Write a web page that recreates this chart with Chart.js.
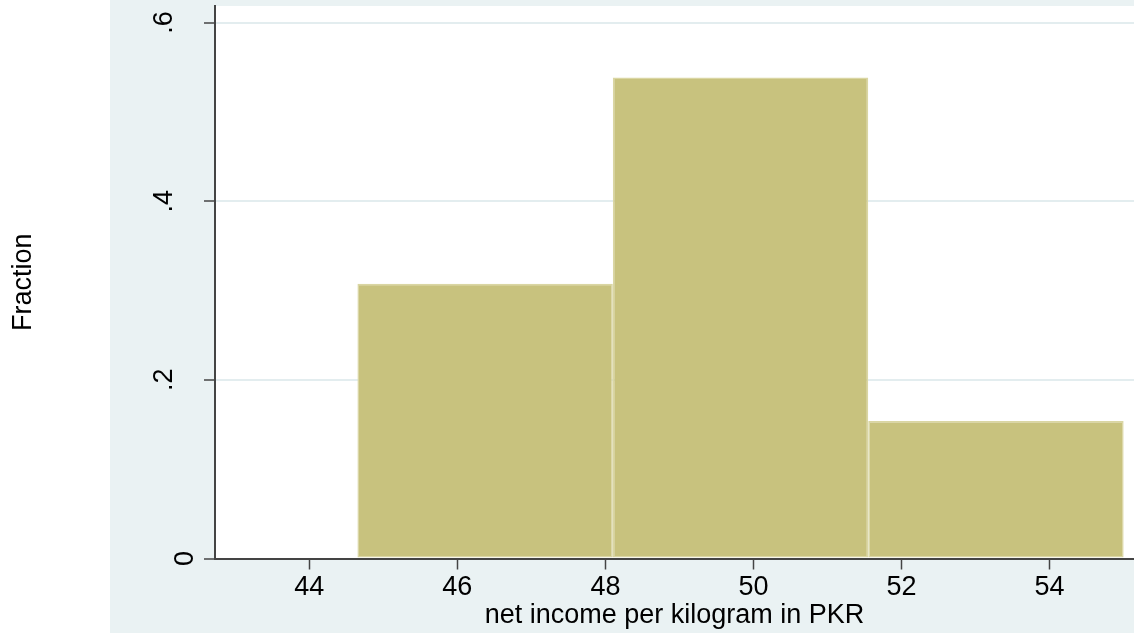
<!DOCTYPE html>
<html>
<head>
<meta charset="utf-8">
<script src="https://cdn.jsdelivr.net/npm/chart.js@4/dist/chart.umd.min.js"></script>
<style>
  html, body { margin: 0; padding: 0; background: #fff; }
  #wrap { width: 1134px; height: 633px; }
</style>
</head>
<body>
<div id="wrap"><canvas id="histChart"></canvas></div>
<script>
// histogram bins (edges) and fraction per bin
const binEdges = [44.65, 48.1, 51.55, 55.0];
const fractions = [0.3077, 0.5385, 0.1538];
const xTicks = [44, 46, 48, 50, 52, 54];
const yTicks = [0, 0.2, 0.4, 0.6];
const yTickLabels = ["0", ".2", ".4", ".6"];

const FONT = "'Liberation Sans', Arial, sans-serif";
const FONT_SIZE = 27;
const BG = "#EAF2F3";

const bars = fractions.map((f, i) => ({
  x: (binEdges[i] + binEdges[i + 1]) / 2,
  y: f,
}));

// chart.js sizes bars from the smallest gap (here the tick step), so scale up to the bin width
const binRatio = (binEdges[1] - binEdges[0]) / (xTicks[1] - xTicks[0]);

// outer gray panel + white plot region
const backgroundPlugin = {
  id: "bg",
  beforeDraw(chart) {
    const { ctx, chartArea } = chart;
    ctx.save();
    ctx.fillStyle = "#fff";
    ctx.fillRect(0, 0, chart.width, chart.height);
    ctx.fillStyle = BG;
    ctx.fillRect(110, 0, chart.width - 110, chart.height);
    ctx.fillStyle = "#fff";
    ctx.fillRect(chartArea.left, chartArea.top,
      chartArea.right - chartArea.left, chartArea.bottom - chartArea.top);
    ctx.restore();
  },
};

// Stata style rotated y tick labels
const yLabelPlugin = {
  id: "ylabels",
  afterDraw(chart) {
    const { ctx } = chart;
    const y = chart.scales.y;
    ctx.save();
    ctx.fillStyle = "#000";
    ctx.font = FONT_SIZE + "px " + FONT;
    ctx.textAlign = "center";
    ctx.textBaseline = "alphabetic";
    yTicks.forEach((v, i) => {
      const label = yTickLabels[i];
      const py = y.getPixelForValue(v);
      const px = y.right - 22 - (label.length - 1) * 21;
      ctx.save();
      ctx.translate(px, py);
      ctx.rotate(-Math.PI / 2);
      ctx.fillText(label, 0, 0);
      ctx.restore();
    });
    ctx.restore();
  },
};

new Chart(document.getElementById("histChart"), {
  type: "bar",
  data: {
    datasets: [
      {
        data: bars,
        backgroundColor: "rgb(200,194,126)",
        borderColor: "rgb(218,214,163)",
        borderWidth: 1.5,
        borderSkipped: false,
        barPercentage: binRatio,
        categoryPercentage: 1,
      },
    ],
  },
  options: {
    responsive: true,
    maintainAspectRatio: false,
    animation: false,
    layout: { padding: { top: 6, left: 0, right: 0, bottom: 0 } },
    plugins: {
      legend: { display: false },
      tooltip: { enabled: false },
    },
    scales: {
      x: {
        type: "linear",
        min: 42.726,
        max: 55.14,
        offset: false,
        afterBuildTicks: (s) => { s.ticks = xTicks.map((v) => ({ value: v })); },
        afterFit: (s) => { s.height = 74.5; },
        ticks: {
          padding: 2,
          color: "#000",
          font: { family: FONT, size: FONT_SIZE },
          maxRotation: 0,
          callback: (v) => String(v),
        },
        grid: {
          offset: false,
          drawOnChartArea: false,
          tickLength: 11,
          tickColor: "#444",
          tickWidth: 1.5,
        },
        border: { display: true, color: "#444", width: 2 },
        title: {
          display: true,
          text: "net income per kilogram in PKR",
          color: "#000",
          font: { family: FONT, size: FONT_SIZE },
          padding: { top: 0, bottom: 1 },
        },
      },
      y: {
        min: 0,
        max: 0.6185,
        afterBuildTicks: (s) => { s.ticks = yTicks.map((v) => ({ value: v })); },
        afterFit: (s) => { s.width = 215; },
        ticks: { display: false },
        grid: {
          color: "#E3EDEF",
          lineWidth: 2,
          tickLength: 11,
          tickColor: "#444",
          tickWidth: 1.5,
        },
        border: { display: true, color: "#444", width: 2 },
        title: {
          display: true,
          text: "Fraction",
          color: "#000",
          font: { family: FONT, size: FONT_SIZE },
          padding: { top: 7, bottom: 0 },
        },
      },
    },
  },
  plugins: [backgroundPlugin, yLabelPlugin],
});
</script>
</body>
</html>
